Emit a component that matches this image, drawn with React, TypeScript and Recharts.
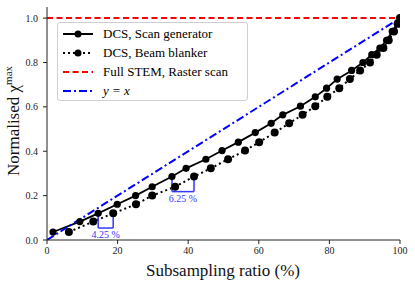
import {
  Label,
  Line,
  LineChart,
  ReferenceLine,
  XAxis,
  YAxis,
} from "recharts";

const scanX = [1.7, 9.3, 14.5, 19.9, 25.1, 29.8, 35.4, 39.4, 45, 49.6, 54.2, 59, 63.5, 66.8, 71.8, 76, 79.2, 82.2, 86.3, 89.5, 92, 94.3, 96.2, 97.8, 99.2, 100];
const scanY = [0.036, 0.083, 0.12, 0.161, 0.2, 0.24, 0.286, 0.323, 0.364, 0.403, 0.441, 0.484, 0.526, 0.564, 0.603, 0.645, 0.684, 0.725, 0.764, 0.8, 0.835, 0.865, 0.9, 0.94, 0.975, 1.0];

const blankX = [6.2, 13.1, 18.75, 25.2, 29.8, 36.3, 41.65, 46.4, 51.3, 56.1, 60.1, 64.5, 68.6, 72.4, 76, 79.4, 82.8, 85.8, 88.7, 91.5, 93.4, 95.3, 96.8, 98.3, 99.5, 100];
const blankY = [0.036, 0.083, 0.12, 0.161, 0.2, 0.24, 0.286, 0.323, 0.364, 0.403, 0.441, 0.484, 0.526, 0.564, 0.603, 0.645, 0.684, 0.725, 0.764, 0.8, 0.835, 0.865, 0.9, 0.94, 0.975, 1.0];

const rasterLine = [{ x: 0, y: 1 }, { x: 100, y: 1 }];
const identityLine = [{ x: 0, y: 0 }, { x: 100, y: 1 }];

const xTicks = [0, 20, 40, 60, 80, 100];
const yTicks = [0, 0.2, 0.4, 0.6, 0.8, 1.0];

// delay brackets: start x, shift, y at the two markers, y of the bracket floor
const gaps = [
  { label: "4.25 %", x: 14.5, shift: 4.25, yLeft: 0.12, yRight: 0.12, yFloor: 0.054 },
  { label: "6.25 %", x: 35.4, shift: 6.25, yLeft: 0.286, yRight: 0.286, yFloor: 0.218 },
];

const legendItems = [
  { name: "DCS, Scan generator", color: "#000", dash: undefined, dot: true },
  { name: "DCS, Beam blanker", color: "#000", dash: "2 3", dot: true },
  { name: "Full STEM, Raster scan", color: "#ff0000", dash: "6 3.5", dot: false },
  { name: "y = x", color: "#0000ff", dash: "8 3 2 3", dot: false },
];

const FONT = "Times New Roman, Liberation Serif, Tinos, DejaVu Serif, serif";
const ANNOT = "#3535ff";

const scanData = scanX.map((x, i) => ({ x, y: scanY[i] }));
const blankData = blankX.map((x, i) => ({ x, y: blankY[i] }));

function ChartLegend() {
  return (
    <div
      style={{
        position: "absolute",
        left: 57,
        top: 22,
        width: 189,
        height: 77,
        border: "1px solid #d0d0d0",
        borderRadius: 3,
        background: "rgba(255,255,255,0.8)",
        fontFamily: FONT,
        fontSize: 13,
        color: "#000",
      }}
    >
      {legendItems.map((it, i) => (
        <div key={it.name} style={{ position: "absolute", left: 4, top: 1 + i * 19, height: 19, display: "flex", alignItems: "center" }}>
          <svg width={32} height={12}>
            <line x1={1} x2={31} y1={6} y2={6} stroke={it.color} strokeWidth={2} strokeDasharray={it.dash} />
            {it.dot && <circle cx={16} cy={6} r={3.5} fill="#000" />}
          </svg>
          <span style={{ marginLeft: 9, fontStyle: it.name === "y = x" ? "italic" : "normal" }}>{it.name}</span>
        </div>
      ))}
    </div>
  );
}

export default function App() {
  return (
    <div style={{ position: "fixed", left: 0, top: 0, width: 415, height: 286, background: "#fff" }}>
      <LineChart width={415} height={286} margin={{ top: 7, right: 15, bottom: 0, left: 0 }} style={{ fontFamily: FONT }}>
        <XAxis
          type="number"
          dataKey="x"
          domain={[0, 100]}
          ticks={xTicks}
          height={46}
          tickSize={4}
          tickMargin={3}
          stroke="#222"
          tick={{ fill: "#222", fontSize: 10, fontFamily: FONT }}
          allowDataOverflow
        >
          <Label
            content={() => (
              <text x={223} y={276} textAnchor="middle" fontFamily={FONT} fontSize={17} fill="#111">
                Subsampling ratio (%)
              </text>
            )}
          />
        </XAxis>
        <XAxis xAxisId="top" orientation="top" type="number" domain={[0, 100]} height={0} tick={false} tickLine={false} stroke="#222" />
        <YAxis
          type="number"
          domain={[0, 1.05]}
          ticks={yTicks}
          width={47}
          tickSize={4}
          tickMargin={5}
          stroke="#222"
          tickFormatter={(v: number) => v.toFixed(1)}
          tick={{ fill: "#222", fontSize: 10, fontFamily: FONT }}
          allowDataOverflow
        >
          <Label
            content={() => (
              <text x={19} y={121} transform="rotate(-90 19 121)" textAnchor="middle" fontFamily={FONT} fontSize={17} fill="#111">
                Normalised χ<tspan dy={-7} fontSize={11}>max</tspan>
              </text>
            )}
          />
        </YAxis>
        <YAxis yAxisId="right" orientation="right" type="number" domain={[0, 1.05]} width={0} tick={false} tickLine={false} stroke="#222" />

        <Line
          data={scanData}
          dataKey="y"
          stroke="#000"
          strokeWidth={1.8}
          dot={{ r: 3.6, fill: "#000", stroke: "#000", strokeWidth: 0 }}
          isAnimationActive={false}
        />
        <Line
          data={blankData}
          dataKey="y"
          stroke="#000"
          strokeWidth={2}
          strokeDasharray="2 3"
          dot={{ r: 4, fill: "#000", stroke: "#000", strokeWidth: 0, strokeDasharray: "0" }}
          isAnimationActive={false}
        />
        <Line data={rasterLine} dataKey="y" stroke="#ff0000" strokeWidth={2} strokeDasharray="6 3.5" dot={false} isAnimationActive={false} />
        <Line data={identityLine} dataKey="y" stroke="#0000ff" strokeWidth={2} strokeDasharray="8 3 2 3" dot={false} isAnimationActive={false} />

        {gaps.map((g) => [
          <ReferenceLine key={g.label + "l"} segment={[{ x: g.x, y: g.yLeft }, { x: g.x, y: g.yFloor }]} stroke={ANNOT} strokeWidth={1.5} />,
          <ReferenceLine key={g.label + "r"} segment={[{ x: g.x + g.shift, y: g.yRight }, { x: g.x + g.shift, y: g.yFloor }]} stroke={ANNOT} strokeWidth={1.5} />,
          <ReferenceLine
            key={g.label + "b"}
            segment={[{ x: g.x, y: g.yFloor }, { x: g.x + g.shift, y: g.yFloor }]}
            stroke={ANNOT}
            strokeWidth={1.5}
            label={{ value: g.label, position: "bottom", offset: 3, fill: ANNOT, fontSize: 10, fontFamily: FONT }}
          />,
        ])}
      </LineChart>
      <ChartLegend />
    </div>
  );
}
